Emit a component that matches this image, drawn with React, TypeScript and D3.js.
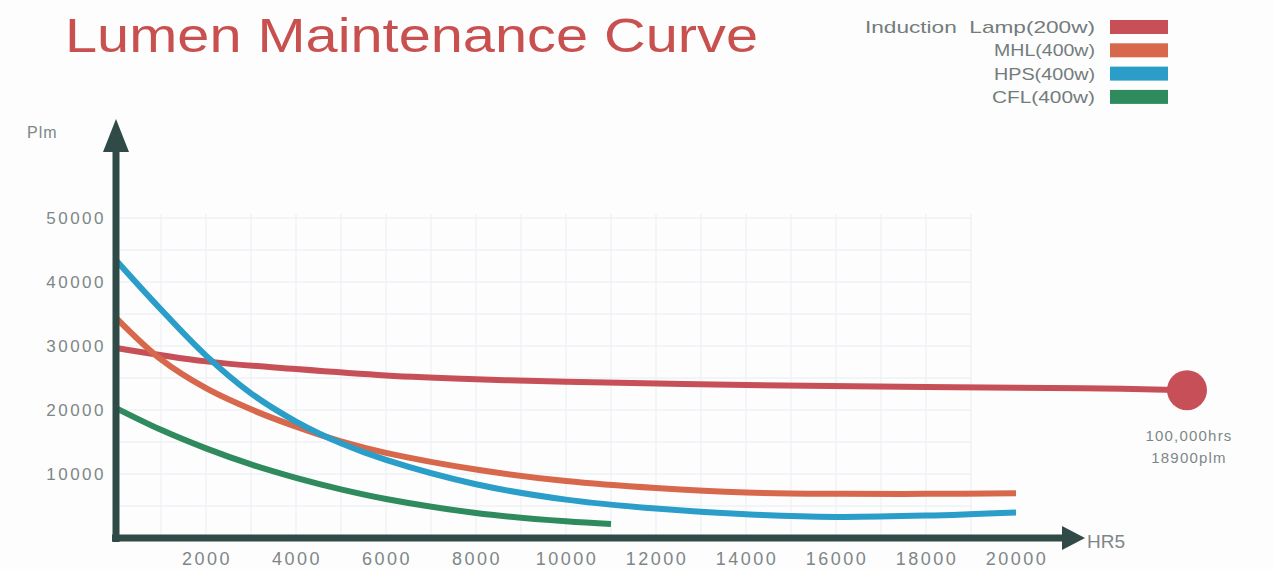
import React from "react";
import * as d3 from "d3";

// ---- data (hours, lumens) ----
const xTicks = [2000, 4000, 6000, 8000, 10000, 12000, 14000, 16000, 18000, 20000];
const yTicks = [10000, 20000, 30000, 40000, 50000];

// last induction point is drawn past the axis break, standing for 100,000 hrs
const inductionHours = [0, 2000, 4000, 6000, 8000, 10000, 14000, 18000, 21500, 23800];
const inductionLm = [29700, 27600, 26400, 25400, 24800, 24400, 23900, 23600, 23400, 23100];

const mhlHours = [0, 1000, 2000, 3000, 4000, 5000, 6000, 8000, 10000, 12000, 14000, 16000, 18000, 20000];
const mhlLm = [34400, 27900, 23400, 20100, 17400, 15100, 13300, 10700, 8900, 7800, 7100, 6900, 6900, 7000];

const hpsHours = [0, 1000, 2000, 3000, 4000, 5000, 6000, 8000, 10000, 12000, 14000, 16000, 18000, 20000];
const hpsLm = [43400, 35700, 28500, 22600, 18200, 14800, 12200, 8400, 6000, 4600, 3700, 3300, 3500, 4000];

const cflHours = [0, 1000, 2000, 3000, 4000, 5000, 6000, 8000, 10000, 11000];
const cflLm = [20300, 16900, 14000, 11500, 9400, 7600, 6100, 3900, 2600, 2200];

const legendNames = ["Induction  Lamp(200w)", "MHL(400w)", "HPS(400w)", "CFL(400w)"];
const legendWidths = [230, 101, 101, 103];
const seriesColors = ["#c74f58", "#d8684c", "#2a9dc8", "#2f8a5e"];

const endLabel = ["100,000hrs", "18900plm"];
const title = "Lumen Maintenance Curve";

export default function App() {
  const W = 1273, H = 569;
  const x = d3.scaleLinear().domain([0, 20000]).range([116, 1016]);
  const y = d3.scaleLinear().domain([0, 50000]).range([538, 218]);
  const line = d3
    .line<[number, number]>()
    .x((d) => x(d[0]))
    .y((d) => y(d[1]))
    .curve(d3.curveCatmullRom.alpha(0.5));

  const series = [
    { h: inductionHours, v: inductionLm },
    { h: mhlHours, v: mhlLm },
    { h: hpsHours, v: hpsLm },
    { h: cflHours, v: cflLm },
  ];

  const axisColor = "#2f4a47";
  const labelColor = "#7d8787";
  const gridColor = "#eef2f6";

  const gridX = d3.range(1000, 19001, 1000);
  const gridY = d3.range(5000, 50001, 5000);

  const last = series[0].h.length - 1;
  const endX = x(series[0].h[last]);
  const endY = y(series[0].v[last]);

  return (
    <svg
      width={W}
      height={H}
      style={{ position: "absolute", left: 0, top: 0, background: "#fdfdfd" }}
      fontFamily="Liberation Sans, Arial, sans-serif"
    >
      <rect x={0} y={0} width={W} height={H} fill="#fdfdfd" />
      {/* title */}
      <text x={65} y={52} fontSize={48} fill="#c8504f" textLength={693} lengthAdjust="spacingAndGlyphs">
        {title}
      </text>

      {/* grid */}
      <g stroke={gridColor} strokeWidth={1.3}>
        {gridX.map((g) => (
          <line key={"gx" + g} x1={x(g)} x2={x(g)} y1={y(50000) - 4} y2={y(0)} />
        ))}
        {gridY.map((g) => (
          <line key={"gy" + g} x1={x(0)} x2={x(19000)} y1={y(g)} y2={y(g)} />
        ))}
      </g>

      {/* curves */}
      {series.map((s, i) => (
        <path
          key={i}
          d={line(s.h.map((h, j) => [h, s.v[j]] as [number, number])) || ""}
          fill="none"
          stroke={seriesColors[i]}
          strokeWidth={6}
          strokeLinecap="butt"
        />
      ))}
      <circle cx={endX} cy={endY} r={20} fill={seriesColors[0]} />
      <g fill={labelColor} fontSize={15} letterSpacing={1.2}>
        {endLabel.map((t, i) => (
          <text key={t} x={endX + 2} y={endY + 51 + i * 22} textAnchor="middle">
            {t}
          </text>
        ))}
      </g>

      {/* axes */}
      <line x1={x(0)} x2={x(0)} y1={y(0) + 4} y2={145} stroke={axisColor} strokeWidth={7} />
      <path d={`M${x(0) - 13},152 L${x(0)},119 L${x(0) + 13},152 Z`} fill={axisColor} />
      <line x1={x(0) - 4} x2={1068} y1={y(0)} y2={y(0)} stroke={axisColor} strokeWidth={7} />
      <path d={`M1062,${y(0) - 12} L1085,${y(0)} L1062,${y(0) + 12} Z`} fill={axisColor} />

      {/* axis labels */}
      <text x={27} y={138} fontSize={16} fill={labelColor} letterSpacing={1}>Plm</text>
      <text x={1087} y={548} fontSize={19} fill={labelColor}>HR5</text>

      {/* tick labels */}
      <g fill={labelColor} fontSize={17} letterSpacing={2.5}>
        {yTicks.map((t) => (
          <text key={t} x={106} y={y(t) + 6} textAnchor="end">
            {t}
          </text>
        ))}
      </g>
      <g fill={labelColor} fontSize={18} letterSpacing={2.5}>
        {xTicks.map((t) => (
          <text key={t} x={x(t) + 1} y={565} textAnchor="middle">
            {t}
          </text>
        ))}
      </g>

      {/* legend */}
      <g fontSize={17} fill="#737c7c">
        {legendNames.map((n, i) => (
          <g key={n}>
            <text
              x={1095 - legendWidths[i]}
              y={33 + i * 23.3}
              textLength={legendWidths[i]}
              lengthAdjust="spacingAndGlyphs"
              style={{ whiteSpace: "pre" }}
            >
              {n}
            </text>
            <rect x={1110} y={20 + i * 23.3} width={58} height={14} fill={seriesColors[i]} />
          </g>
        ))}
      </g>
    </svg>
  );
}
